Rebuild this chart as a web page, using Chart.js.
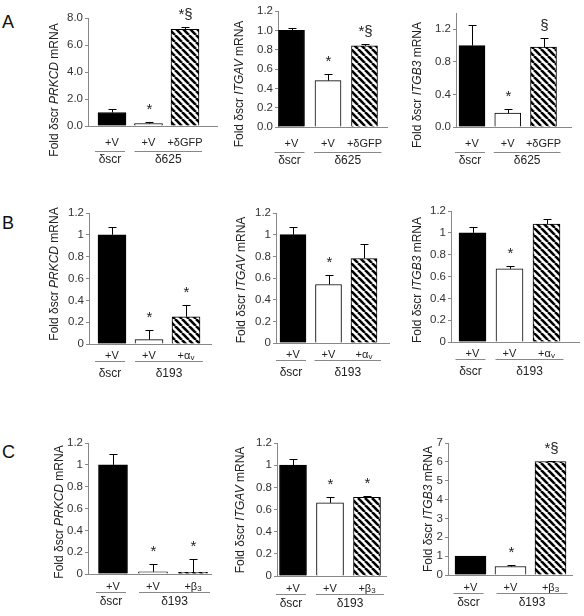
<!DOCTYPE html>
<html>
<head>
<meta charset="utf-8">
<script src="https://cdn.jsdelivr.net/npm/chart.js@4.4.1/dist/chart.umd.min.js"></script>
<style>
  body { margin: 0; background: #fff; width: 584px; height: 616px; position: relative; overflow: hidden;
         font-family: "Liberation Sans", Arial, sans-serif; }
  canvas { position: absolute; }
  .lt { position: absolute; font-size: 18px; line-height: 18px; color: #111; }
</style>
</head>
<body>
<div class="lt" style="left:2px;top:13px">A</div>
<div class="lt" style="left:2px;top:214px">B</div>
<div class="lt" style="left:2px;top:443px">C</div>
<script>
// Conditions under each bar ([text, subscript])
const condA = [['+V', ''], ['+V', ''], ['+δGFP', '']];
const condB = [['+V', ''], ['+V', ''], ['+α', 'v']];
const condC = [['+V', ''], ['+V', ''], ['+β', '3']];
const groupA = ['δscr', 'δ625'];
const groupBC = ['δscr', 'δ193'];

// Fold mRNA values and SD (upper error bar)
const aPrkcd = [1.0, 0.18, 7.16], aPrkcdErr = [0.24, 0.12, 0.19];
const aItgav = [1.0, 0.48, 0.84], aItgavErr = [0.02, 0.07, 0.02];
const aItgb3 = [1.0, 0.17, 0.98], aItgb3Err = [0.25, 0.05, 0.11];
const bPrkcd = [1.0, 0.04, 0.25], bPrkcdErr = [0.07, 0.085, 0.11];
const bItgav = [1.0, 0.54, 0.78], bItgavErr = [0.07, 0.09, 0.13];
const bItgb3 = [1.0, 0.67, 1.08], bItgb3Err = [0.05, 0.03, 0.05];
const cPrkcd = [1.0, 0.02, 0.015], cPrkcdErr = [0.10, 0.07, 0.12];
const cItgav = [1.0, 0.66, 0.71], cItgavErr = [0.06, 0.05, 0.013];
const cItgb3 = [1.0, 0.45, 6.02], cItgb3Err = [0.03, 0.07, 0.05];

// significance marks
const sigA1 = ['', '*', '*§'], sigA2 = ['', '*', '*§'], sigA3 = ['', '*', '§'];
const sigB1 = ['', '*', '*'], sigB2 = ['', '*', ''], sigB3 = ['', '*', ''];
const sigC1 = ['', '*', '*'], sigC2 = ['', '*', '*'], sigC3 = ['', '*', '*§'];

// y axis ranges [max, step]
const yA1 = [8, 1], yA2 = [1.2, 0.2], yA3 = [1.4, 0.2];
const yB = [1.2, 0.2];
const yC1 = [1.2, 0.2], yC3 = [7, 1];

const rowA = [17, 25, 34], rowB = [12, 17, 30], rowC = [13, 17.5, 28];

const panels = [
  { vals: aPrkcd, errs: aPrkcdErr, sig: sigA1, gene: 'PRKCD', cond: condA, grp: groupA, y: yA1, dec: 1,
    box: [0, 0, 230, 200], plot: [88, 218, 18, 126], cx: [112, 149, 185], bw: 28, title: [55, 90], row: rowA },
  { vals: aItgav, errs: aItgavErr, sig: sigA2, gene: 'ITGAV', cond: condA, grp: groupA, y: yA2, dec: 1,
    box: [190, 0, 205, 200], plot: [278, 388, 11, 127], cx: [291.5, 327.5, 364.5], bw: 26, title: [240, 84], row: rowA },
  { vals: aItgb3, errs: aItgb3Err, sig: sigA3, gene: 'ITGB3', cond: condA, grp: groupA, y: yA3, dec: 1,
    box: [380, 0, 204, 200], plot: [456, 572, 13, 127], cx: [472, 508, 543.5], bw: 26, title: [418, 85], row: rowA },
  { vals: bPrkcd, errs: bPrkcdErr, sig: sigB1, gene: 'PRKCD', cond: condB, grp: groupBC, y: yB, dec: null,
    box: [0, 200, 230, 200], plot: [89, 212, 213, 344], cx: [112, 148.5, 186], bw: 28, title: [55, 274], row: rowB },
  { vals: bItgav, errs: bItgavErr, sig: sigB2, gene: 'ITGAV', cond: condB, grp: groupBC, y: yB, dec: null,
    box: [190, 200, 205, 200], plot: [276, 390, 213, 343], cx: [293, 328.5, 364], bw: 26, title: [242, 280], row: rowB },
  { vals: bItgb3, errs: bItgb3Err, sig: sigB3, gene: 'ITGB3', cond: condB, grp: groupBC, y: yB, dec: null,
    box: [380, 200, 204, 200], plot: [451, 580, 211, 342], cx: [472.5, 509.5, 546.5], bw: 27, title: [418, 280], row: rowB },
  { vals: cPrkcd, errs: cPrkcdErr, sig: sigC1, gene: 'PRKCD', cond: condC, grp: groupBC, y: yC1, dec: null,
    box: [0, 400, 230, 216], plot: [88, 212, 443, 574], cx: [113, 153, 193], bw: 29, title: [60, 512], row: rowC },
  { vals: cItgav, errs: cItgavErr, sig: sigC2, gene: 'ITGAV', cond: condC, grp: groupBC, y: yC1, dec: null,
    box: [190, 400, 205, 216], plot: [277, 387, 443, 576], cx: [293, 330.5, 367], bw: 27, title: [241, 510], row: rowC },
  { vals: cItgb3, errs: cItgb3Err, sig: sigC3, gene: 'ITGB3', cond: condC, grp: groupBC, y: yC3, dec: null,
    box: [380, 400, 204, 216], plot: [448, 573, 443, 575], cx: [470.5, 511.5, 550.5], bw: 31, title: [429, 509], row: rowC }
];

const FONT = '"Liberation Sans", Arial, sans-serif';
const AXIS = '#888';
const TXT = '#222';

function hatch() {
  const s = 7;
  const c = document.createElement('canvas');
  c.width = s; c.height = s;
  const g = c.getContext('2d');
  g.fillStyle = '#fff';
  g.fillRect(0, 0, s, s);
  g.strokeStyle = '#000';
  g.lineWidth = 2.6;
  for (let k = -1; k <= 1; k++) {
    g.beginPath();
    g.moveTo(k * s, 0);
    g.lineTo(k * s + s, s);
    g.stroke();
  }
  return g.createPattern(c, 'repeat');
}

function drawCond(ctx, lab, x, y) {
  ctx.font = '11px ' + FONT;
  const w1 = ctx.measureText(lab[0]).width;
  ctx.font = '8px ' + FONT;
  const w2 = lab[1] ? ctx.measureText(lab[1]).width : 0;
  let sx = x - (w1 + w2) / 2;
  ctx.textAlign = 'left';
  ctx.textBaseline = 'middle';
  ctx.font = '11px ' + FONT;
  ctx.fillText(lab[0], sx, y);
  if (lab[1]) {
    ctx.font = '8px ' + FONT;
    ctx.fillText(lab[1], sx + w1, y + 2);
  }
}

function extras(p) {
  return {
    id: 'extras',
    afterDatasetsDraw(chart) {
      const { ctx, chartArea: a, scales: { x, y } } = chart;
      const ox = p.box[0], oy = p.box[1];
      ctx.save();
      // x axis line
      ctx.strokeStyle = AXIS;
      ctx.lineWidth = 1;
      const by = Math.round(a.bottom) + 0.5;
      ctx.beginPath();
      ctx.moveTo(a.left, by);
      ctx.lineTo(a.right, by);
      ctx.stroke();

      // error bars and marks
      const cxs = p.vals.map((v, i) => x.getPixelForValue(i + 1));
      p.vals.forEach((v, i) => {
        const cx = Math.round(cxs[i]) + 0.5;
        const y0 = y.getPixelForValue(v);
        const y1 = Math.round(y.getPixelForValue(v + p.errs[i])) + 0.5;
        ctx.strokeStyle = '#000';
        ctx.beginPath();
        ctx.moveTo(cx, y0);
        ctx.lineTo(cx, y1);
        ctx.moveTo(cx - 4, y1);
        ctx.lineTo(cx + 4, y1);
        ctx.stroke();
        if (p.sig[i]) {
          ctx.fillStyle = TXT;
          ctx.font = '15px ' + FONT;
          ctx.textAlign = 'center';
          ctx.textBaseline = 'alphabetic';
          ctx.fillText(p.sig[i], cx, y1 - 9);
        }
      });

      // condition labels and group lines
      ctx.fillStyle = TXT;
      const zb = a.bottom;
      p.cond.forEach((lab, i) => drawCond(ctx, lab, cxs[i], zb + p.row[0]));
      const ly = Math.round(zb + p.row[1]) + 0.5;
      ctx.strokeStyle = AXIS;
      ctx.beginPath();
      ctx.moveTo(cxs[0] - 17, ly);
      ctx.lineTo(cxs[0] + 13, ly);
      ctx.moveTo(cxs[1] - 14, ly);
      ctx.lineTo(cxs[2] + 17, ly);
      ctx.stroke();
      ctx.font = '12px ' + FONT;
      ctx.textAlign = 'center';
      ctx.textBaseline = 'middle';
      ctx.fillText(p.grp[0], cxs[0] - 2, zb + p.row[2]);
      ctx.fillText(p.grp[1], (cxs[1] - 14 + cxs[2] + 17) / 2, zb + p.row[2]);

      // rotated y title with italic gene name
      const parts = [['Fold δscr ', ''], [p.gene, 'italic '], [' mRNA', '']];
      let total = 0;
      parts.forEach(pt => { ctx.font = pt[1] + '12px ' + FONT; pt.push(ctx.measureText(pt[0]).width); total += pt[2]; });
      ctx.translate(p.title[0] - ox, p.title[1] - oy);
      ctx.rotate(-Math.PI / 2);
      let tx = -total / 2;
      ctx.textAlign = 'left';
      ctx.textBaseline = 'middle';
      parts.forEach(pt => { ctx.font = pt[1] + '12px ' + FONT; ctx.fillText(pt[0], tx, 0); tx += pt[2]; });
      ctx.restore();
    }
  };
}

const pattern = hatch();
const YW = 30;

panels.forEach(p => {
  const [x0, y0, w, h] = p.box;
  const [l, r, t, b] = p.plot;
  const cv = document.createElement('canvas');
  cv.width = w; cv.height = h;
  cv.style.left = x0 + 'px'; cv.style.top = y0 + 'px';
  cv.style.width = w + 'px'; cv.style.height = h + 'px';
  document.body.appendChild(cv);

  const sp = (p.cx[2] - p.cx[0]) / 2;
  const xMin = 1 - (p.cx[0] - l) / sp;
  const xMax = 3 + (r - p.cx[2]) / sp;

  new Chart(cv.getContext('2d'), {
    type: 'bar',
    data: {
      datasets: [{
        data: p.vals.map((v, i) => ({ x: i + 1, y: v })),
        backgroundColor: ['#000', '#fff', pattern],
        borderColor: '#000',
        borderWidth: 1,
        barThickness: p.bw
      }]
    },
    options: {
      responsive: false,
      animation: false,
      devicePixelRatio: 1,
      layout: { padding: { left: l - x0 - YW, right: x0 + w - r, top: t - y0, bottom: y0 + h - b } },
      plugins: { legend: { display: false }, tooltip: { enabled: false } },
      scales: {
        x: { type: 'linear', display: false, min: xMin, max: xMax, offset: false },
        y: {
          min: 0, max: p.y[0],
          afterFit: s => { s.width = YW; },
          border: { display: true, color: AXIS, width: 1 },
          grid: { drawOnChartArea: false, drawTicks: true, tickLength: 3, color: AXIS },
          ticks: {
            stepSize: p.y[1], padding: 2, color: '#333',
            font: { family: 'Liberation Sans', size: 11.5 },
            callback: v => p.dec ? v.toFixed(p.dec) : String(+v.toFixed(1))
          }
        }
      }
    },
    plugins: [extras(p)]
  });
});
</script>
</body>
</html>
